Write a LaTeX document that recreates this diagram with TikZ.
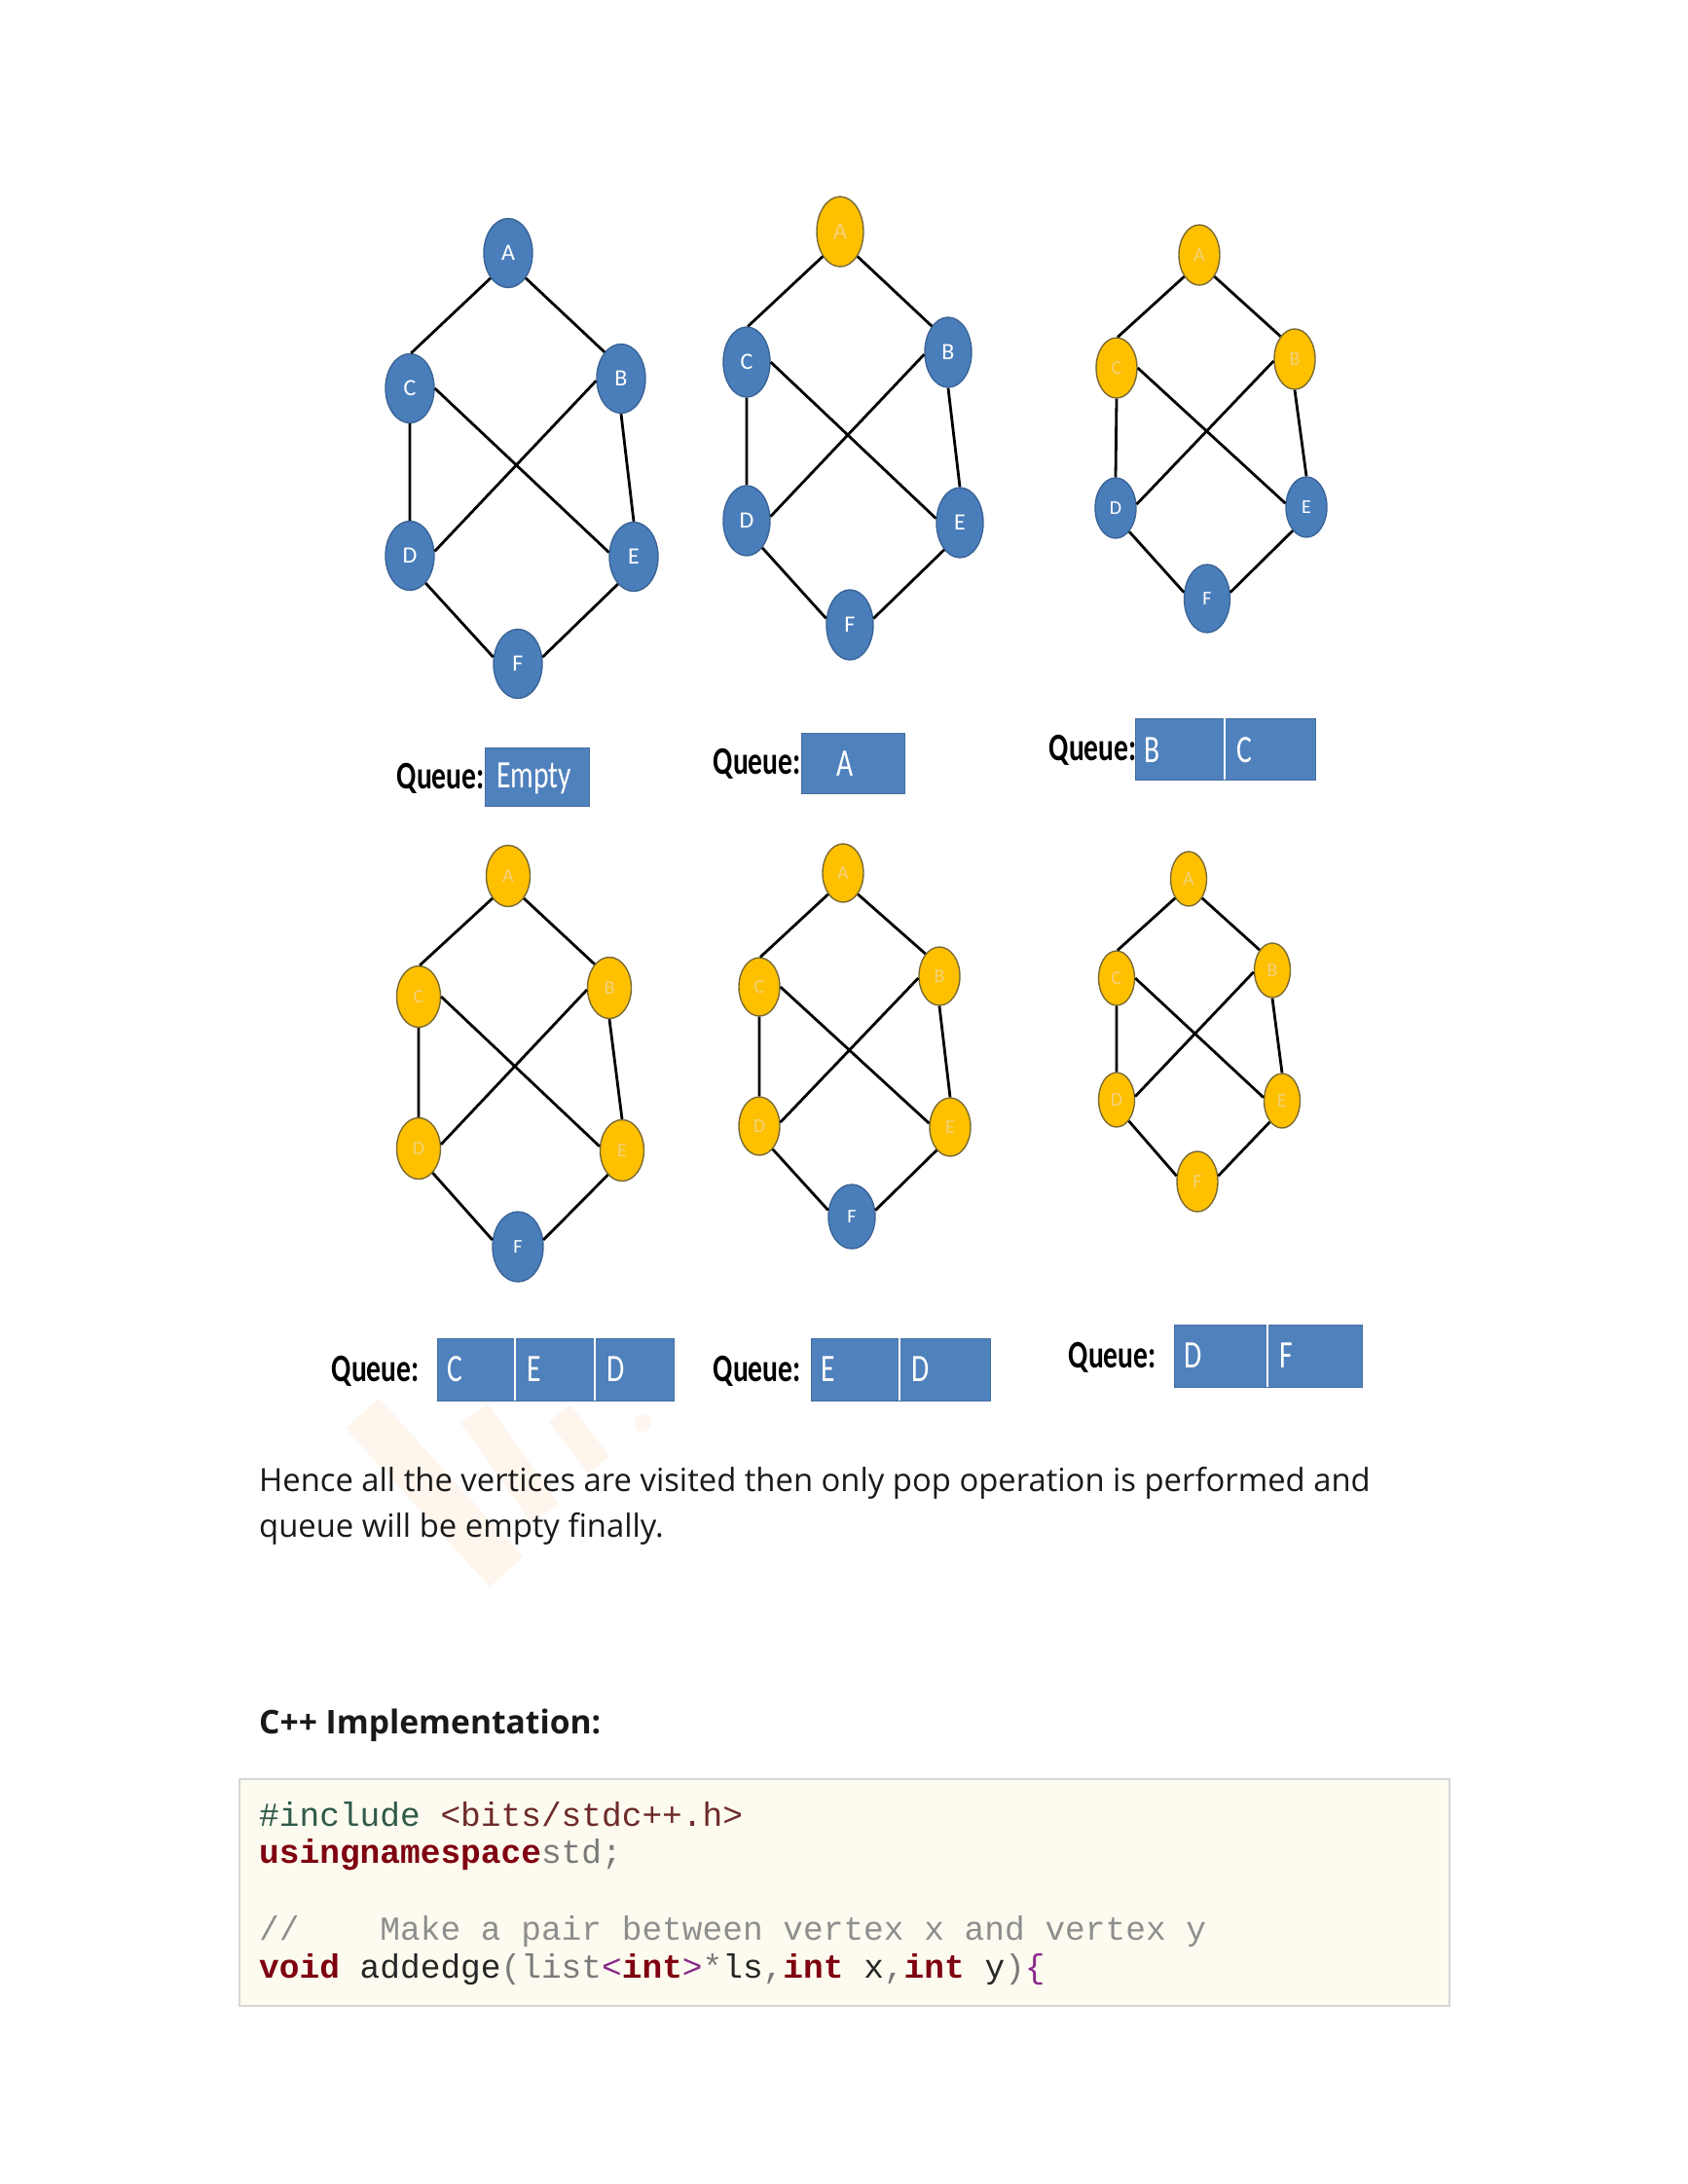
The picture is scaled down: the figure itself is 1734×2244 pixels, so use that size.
\documentclass[tikz,border=0pt]{standalone}
\usepackage{fontspec}
\usepackage{graphicx}
\setmainfont{Open Sans}
\newfontfamily\qfont{Carlito}
\newfontfamily\codefont{Liberation Mono}
\usetikzlibrary{shapes.geometric}
\definecolor{nblue}{HTML}{4A7EBB}
\definecolor{nblueb}{HTML}{3A6496}
\definecolor{nyel}{HTML}{FFC000}
\definecolor{nyelb}{HTML}{7A6A34}
\definecolor{ytext}{HTML}{F2D27A}
\definecolor{qblue}{HTML}{4F81BD}
\definecolor{cbg}{HTML}{FDFBEF}
\definecolor{cbord}{HTML}{D6D6D6}
\definecolor{ckey}{HTML}{7F0010}
\definecolor{cinc}{HTML}{2F5A4A}
\definecolor{chdr}{HTML}{6E2A2A}
\definecolor{cgray}{HTML}{7A7A7A}
\definecolor{ccom}{HTML}{8E8E8E}
\definecolor{cpur}{HTML}{8A2A8A}
\definecolor{ctxt}{HTML}{262626}
\definecolor{wmark}{HTML}{F9A862}
\newcommand\qs[1]{\scalebox{0.74}[1]{#1}}
\newcommand\kw[1]{\textcolor{ckey}{\bfseries #1}}
\begin{document}
\begin{tikzpicture}[x=1pt,y=-1pt,
  gn/.style={ellipse, draw, line width=1.4pt, inner sep=0pt},
  bn/.style={gn, fill=nblue, draw=nblueb, text=white},
  yn/.style={gn, fill=nyel, draw=nyelb, text=ytext},
  big/.style={font=\qfont\fontsize{24}{24}\selectfont},
  small/.style={font=\qfont\fontsize{20}{20}\selectfont},
  edge/.style={line width=2.8pt, black},
  qlab/.style={anchor=east, inner sep=0pt, font=\qfont\bfseries\fontsize{40}{40}\selectfont},
  qbox/.style={anchor=north west, fill=qblue, inner sep=0pt, draw=qblue!85!black, line width=0.6pt},
  qtxt/.style={anchor=west, inner sep=0pt, text=white, font=\qfont\fontsize{40}{40}\selectfont},
  qdiv/.style={white, line width=1.4pt},
  para/.style={anchor=base west, inner sep=0pt, font=\fontsize{32.8}{38}\selectfont, text=black!90},
  code/.style={anchor=base west, inner sep=0pt, font=\codefont\fontsize{34.5}{40}\selectfont, text=ctxt},
  wm/.style={wmark, opacity=0.11, line width=46pt}
]
\useasboundingbox (0,0) rectangle (1734,2244);
\fill[white] (0,0) rectangle (1734,2244);

% ---------- faint watermark behind the text
\draw[wm] (372,1452) -- (520,1615);
\draw[wm, line width=34pt] (487,1452) -- (560,1555);
\draw[wm, line width=28pt] (575,1452) -- (615,1505);
\fill[wmark, opacity=0.09] (660,1462) circle (9);

% ---------- graph a (top left, all blue)
\begin{scope}[every node/.append style={big, minimum width=50pt, minimum height=71pt}]
\node[bn] (aA) at (522,260) {A};
\node[bn] (aC) at (421,399) {C};
\node[bn] (aB) at (638,389) {B};
\node[bn] (aD) at (421,571) {D};
\node[bn] (aE) at (651,572) {E};
\node[bn] (aF) at (532,682) {F};
\end{scope}
% ---------- graph b
\begin{scope}[every node/.append style={big, minimum width=48pt, minimum height=72pt}]
\node[yn] (bA) at (863,238) {A};
\node[bn] (bC) at (767,372) {C};
\node[bn] (bB) at (974,362) {B};
\node[bn] (bD) at (767,535) {D};
\node[bn] (bE) at (986,537) {E};
\node[bn] (bF) at (873,642) {F};
\end{scope}
% ---------- graph c
\begin{scope}[every node/.append style={small, minimum width=42pt, minimum height=62pt}]
\node[yn] (cA) at (1232,262) {A};
\node[yn] (cC) at (1147,378) {C};
\node[yn] (cB) at (1330,369) {B};
\node[bn] (cD) at (1146,522) {D};
\node[bn] (cE) at (1342,521) {E};
\node[bn, minimum width=47pt, minimum height=70pt] (cF) at (1240,615) {F};
\end{scope}
% ---------- graph d
\begin{scope}[every node/.append style={small, minimum width=45pt, minimum height=63pt}]
\node[yn] (dA) at (522,900) {A};
\node[yn] (dC) at (430,1024) {C};
\node[yn] (dB) at (626,1015) {B};
\node[yn] (dD) at (430,1180) {D};
\node[yn] (dE) at (639,1182) {E};
\node[bn, minimum width=52pt, minimum height=72pt] (dF) at (532,1281) {F};
\end{scope}
% ---------- graph e
\begin{scope}[every node/.append style={small, minimum width=42pt, minimum height=60pt}]
\node[yn] (eA) at (866,897) {A};
\node[yn] (eC) at (780,1014) {C};
\node[yn] (eB) at (965,1003) {B};
\node[yn] (eD) at (780,1157) {D};
\node[yn] (eE) at (976,1158) {E};
\node[bn, minimum width=48pt, minimum height=66pt] (eF) at (875,1250) {F};
\end{scope}
% ---------- graph f
\begin{scope}[every node/.append style={small, minimum width=37pt, minimum height=56pt}]
\node[yn] (fA) at (1221,903) {A};
\node[yn] (fC) at (1147,1005) {C};
\node[yn] (fB) at (1307,997) {B};
\node[yn] (fD) at (1147,1130) {D};
\node[yn] (fE) at (1317,1131) {E};
\node[yn, minimum width=42pt, minimum height=62pt] (fF) at (1230,1214) {F};
\end{scope}

\foreach \g in {a,b,c,d,e,f}{
  \draw[edge] (\g A.235)--(\g C.88) (\g A.305)--(\g B.122)
              (\g C.south)--(\g D.north) (\g C.0)--(\g E.170)
              (\g B.185)--(\g D.10) (\g B.south)--(\g E.north)
              (\g D.300)--(\g F.165) (\g E.240)--(\g F.15);
}

% ---------- queues, row 1
\node[qbox, minimum width=107pt, minimum height=60pt] (q1) at (498,768) {};
\node[qlab] (q1l) at (498,800) {\qs{Queue:}};
\node[qtxt] (q1t) at (510,800) {\qs{Empty}};

\node[qbox, minimum width=106pt, minimum height=62pt] (q2) at (823,753) {};
\node[qlab] (q2l) at (823,785) {\qs{Queue:}};
\node[qtxt] (q2t) at (859,785) {\qs{A}};

\node[qbox, minimum width=185pt, minimum height=63pt] (q3) at (1166,738) {};
\node[qlab] (q3l) at (1168,771) {\qs{Queue:}};
\draw[qdiv] (1258,738) -- (1258,801);
\node[qtxt] (q3a) at (1175,771) {\qs{B}};
\node[qtxt] (q3b) at (1270,771) {\qs{C}};

% ---------- queues, row 2
\node[qbox, minimum width=243pt, minimum height=64pt] (q4) at (449,1375) {};
\node[qlab] (q4l) at (431,1409) {\qs{Queue:}};
\draw[qdiv] (529,1375) -- (529,1439);
\draw[qdiv] (611,1375) -- (611,1439);
\node[qtxt] (q4a) at (459,1407) {\qs{C}};
\node[qtxt] (q4b) at (541,1407) {\qs{E}};
\node[qtxt] (q4c) at (623,1407) {\qs{D}};

\node[qbox, minimum width=184pt, minimum height=64pt] (q5) at (833,1375) {};
\node[qlab] (q5l) at (823,1409) {\qs{Queue:}};
\draw[qdiv] (924,1375) -- (924,1439);
\node[qtxt] (q5a) at (843,1407) {\qs{E}};
\node[qtxt] (q5b) at (936,1407) {\qs{D}};

\node[qbox, minimum width=193pt, minimum height=64pt] (q6) at (1206,1361) {};
\node[qlab] (q6l) at (1188,1395) {\qs{Queue:}};
\draw[qdiv] (1302,1361) -- (1302,1425);
\node[qtxt] (q6a) at (1216,1393) {\qs{D}};
\node[qtxt] (q6b) at (1314,1393) {\qs{F}};

% ---------- paragraph
\node[para] (p1) at (266,1532) {Hence all the vertices are visited then only pop operation is performed and};
\node[para] (p2) at (266,1579) {queue will be empty finally.};
\node[para, font=\bfseries\fontsize{33.6}{38}\selectfont] (h1) at (266,1781) {C++ Implementation:};

% ---------- code box
\node[anchor=north west, draw=cbord, fill=cbg, line width=1.5pt, inner sep=0pt,
      minimum width=1243pt, minimum height=233pt] (codebox) at (245,1827) {};
\node[code] (c1) at (266,1876) {\textcolor{cinc}{\#include} \textcolor{chdr}{<bits/stdc++.h>}};
\node[code] (c2) at (266,1914) {\kw{usingnamespace}\textcolor{cgray}{std;}};
\node[code] (c4) at (266,1993) {\textcolor{ccom}{//\ \ \ \ Make a pair between vertex x and vertex y}};
\node[code] (c5) at (266,2032) {\kw{void} addedge\textcolor{cgray}{(list}\textcolor{cpur}{<}\kw{int}\textcolor{cpur}{>}\textcolor{cgray}{*}ls\textcolor{cgray}{,}\kw{int} x\textcolor{cgray}{,}\kw{int} y\textcolor{cgray}{)}\textcolor{cpur}{\{}};
\end{tikzpicture}
\end{document}
